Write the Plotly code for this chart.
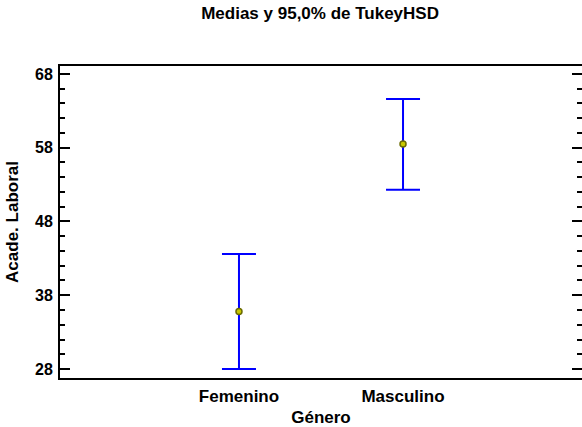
import plotly.graph_objects as go

categories = ["Femenino", "Masculino"]
means = [35.8, 58.5]
upper = [43.6, 64.6]
lower = [28.0, 52.3]
y_ticks = [28, 38, 48, 58, 68]

x_pos = list(range(len(categories)))
err_plus = [u - m for u, m in zip(upper, means)]
err_minus = [m - l for m, l in zip(means, lower)]

YRANGE = [26.78, 69.08]
font = "Arial, Liberation Sans, sans-serif"

fig = go.Figure()
fig.add_trace(go.Scatter(
    x=x_pos, y=means, mode="markers",
    marker=dict(symbol="circle", size=6, color="#c8c800",
                line=dict(color="#6b6b00", width=1.5)),
    error_y=dict(type="data", symmetric=False, array=err_plus, arrayminus=err_minus,
                 color="#0000ff", thickness=2, width=17),
    showlegend=False,
))
# invisible trace to activate the right-hand mirror axis
fig.add_trace(go.Scatter(x=[x_pos[0]], y=[means[0]], yaxis="y2", mode="markers",
                         marker=dict(opacity=0), showlegend=False, hoverinfo="skip"))

fig.update_layout(
    width=582, height=427,
    margin=dict(l=60, r=0, t=66, b=49),
    paper_bgcolor="white", plot_bgcolor="white",
    title=dict(text="<b>Medias y 95,0% de TukeyHSD</b>", x=0.55, xanchor="center",
               y=0.970, yanchor="middle", font=dict(family=font, size=17, color="black")),
    xaxis=dict(range=[-1.091, 2.091], tickvals=x_pos,
               ticktext=["<b>" + c + "</b>" for c in categories],
               showgrid=False, zeroline=False, showline=True, linecolor="black",
               linewidth=2, mirror=True, ticks="", automargin=False,
               ticklabelstandoff=2,
               tickfont=dict(family=font, size=17, color="black"),
               title=dict(text="<b>Género</b>", font=dict(family=font, size=17, color="black"),
                          standoff=7)),
    yaxis=dict(range=YRANGE, tickvals=y_ticks,
               ticktext=["<b>%d</b>" % v for v in y_ticks],
               showgrid=False, zeroline=False, showline=True, linecolor="black",
               linewidth=2, ticks="inside", ticklen=10, tickwidth=2,
               tickcolor="black", automargin=False, ticklabelstandoff=2,
               minor=dict(dtick=2, tick0=28, ticks="inside", ticklen=5, tickwidth=2,
                          tickcolor="black", showgrid=False),
               tickfont=dict(family=font, size=16, color="black"),
               title=dict(text="<b>Acade. Laboral</b>", font=dict(family=font, size=17, color="black"),
                          standoff=12)),
    yaxis2=dict(range=YRANGE, overlaying="y", side="right", tickvals=y_ticks,
                showticklabels=False, showgrid=False, zeroline=False, showline=False,
                ticks="inside", ticklen=10, tickwidth=2, tickcolor="black", automargin=False,
                minor=dict(dtick=2, tick0=28, ticks="inside", ticklen=5, tickwidth=2,
                           tickcolor="black", showgrid=False)),
)

fig.write_html("out.html", config={"displayModeBar": False},
               post_script="document.body.style.margin='0';")
